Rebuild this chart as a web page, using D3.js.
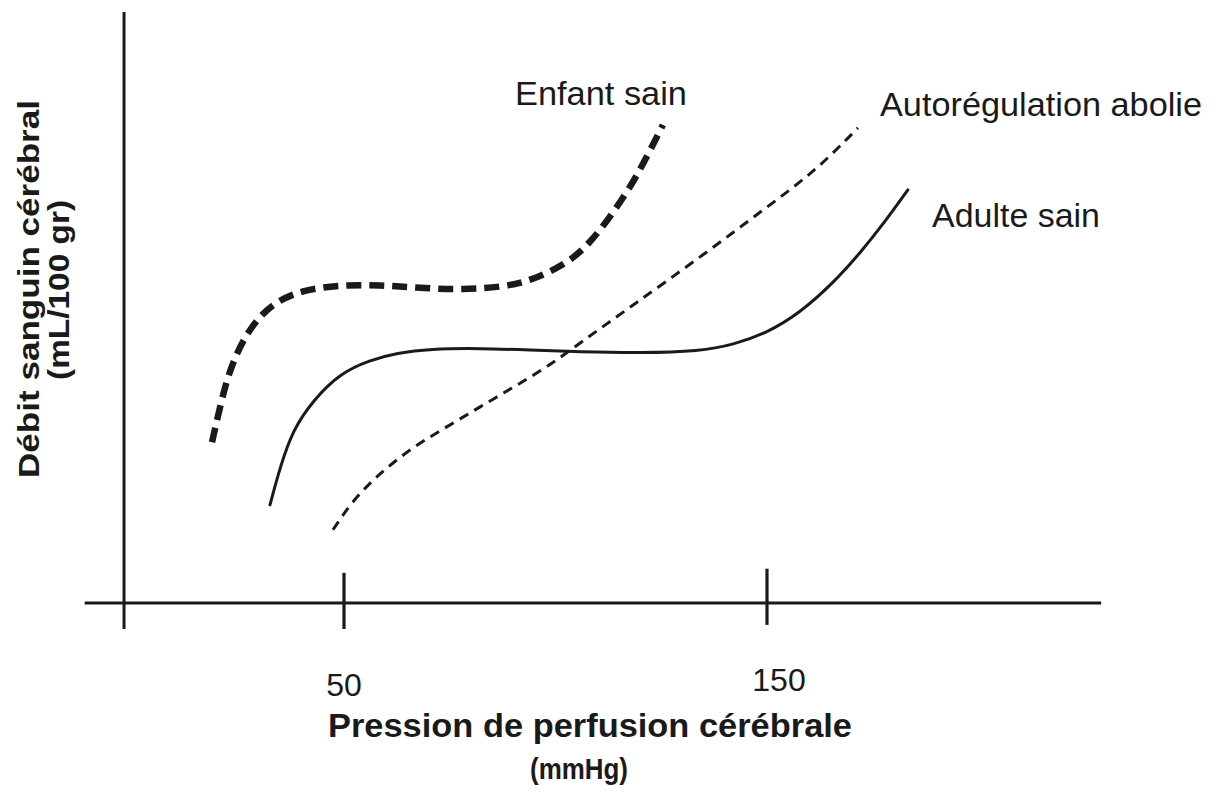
<!doctype html>
<html lang="fr">
<head>
<meta charset="UTF-8">
<title>Autorégulation cérébrale</title>
<script src="https://d3js.org/d3.v7.min.js"></script>
<style>
  body { margin: 0; background: #fff; }
  text { font-family: "Liberation Sans", Arial, sans-serif; fill: #1a1a1a; }
</style>
</head>
<body>
<div id="chart"></div>
<script>
  // pression de perfusion (mmHg) / débit (unités arbitraires, 0 = axe x)
  const enfantX = [18.8, 21.4, 23.8, 27.8, 33.2, 40.3, 49.1, 58.5, 68.0, 78.1, 88.1, 94.7, 102.7, 108.2, 113.6, 118.3, 121.6, 125.4];
  const enfantY = [27.2, 35.5, 41.1, 46.7, 50.8, 53.0, 53.8, 53.8, 53.3, 53.0, 53.5, 54.7, 57.4, 60.9, 66.0, 71.1, 75.5, 80.9];

  const adulteX = [32.5, 34.9, 37.9, 42.7, 49.1, 56.1, 62.5, 70.3, 82.2, 94.0, 105.8, 120.0, 134.2, 142.0, 150.0, 157.8, 165.6, 172.0, 177.9, 183.3];
  const adulteY = [16.6, 23.0, 29.3, 34.3, 38.9, 41.1, 42.3, 43.0, 43.1, 42.8, 42.5, 42.3, 42.6, 43.7, 45.7, 49.1, 54.1, 59.2, 64.5, 69.9];

  const aboliX = [47.4, 52.1, 58.5, 66.3, 74.3, 82.2, 90.0, 98.0, 105.8, 118.3, 134.2, 150.0, 161.8, 171.5];
  const aboliY = [12.4, 17.4, 22.0, 26.4, 29.8, 33.2, 36.5, 39.9, 44.0, 50.4, 58.5, 67.0, 73.3, 80.4];

  const tickValues = [50, 150];
  const tickLabels = ["50", "150"];
  const seriesLabels = ["Enfant sain", "Autorégulation abolie", "Adulte sain"];

  const width = 1215, height = 793;

  const x = d3.scaleLinear().domain([50, 150]).range([344, 767]);
  const y = d3.scaleLinear().domain([0, 100]).range([603, 12]);

  const svg = d3.select("#chart").append("svg")
    .attr("width", width)
    .attr("height", height);

  svg.append("rect").attr("width", width).attr("height", height).attr("fill", "#fff");

  const ink = "#1a1a1a";

  // axes
  svg.append("line")
    .attr("x1", x(-11.3)).attr("x2", x(229))
    .attr("y1", y(0)).attr("y2", y(0))
    .attr("stroke", ink).attr("stroke-width", 3);

  svg.append("line")
    .attr("x1", x(-2)).attr("x2", x(-2))
    .attr("y1", y(100)).attr("y2", y(-4.4))
    .attr("stroke", ink).attr("stroke-width", 3);

  const tickTop = [5.1, 5.8];
  const tickBottom = [-4.4, -3.7];
  svg.selectAll(".tick")
    .data(tickValues)
    .join("line")
    .attr("class", "tick")
    .attr("x1", d => x(d)).attr("x2", d => x(d))
    .attr("y1", (d, i) => y(tickTop[i]))
    .attr("y2", (d, i) => y(tickBottom[i]))
    .attr("stroke", ink).attr("stroke-width", 3.2);

  const labelShift = [0, 12];
  const labelBase = [696, 691];
  svg.selectAll(".ticklabel")
    .data(tickValues)
    .join("text")
    .attr("class", "ticklabel")
    .attr("x", (d, i) => x(d) + labelShift[i])
    .attr("y", (d, i) => labelBase[i])
    .attr("text-anchor", "middle")
    .style("font-size", "32px")
    .text((d, i) => tickLabels[i]);

  // courbes
  const line = d3.line()
    .x(d => x(d[0]))
    .y(d => y(d[1]))
    .curve(d3.curveBasis);

  const series = [
    { xs: enfantX, ys: enfantY, w: 6.5, dash: "15,8" },
    { xs: adulteX, ys: adulteY, w: 3, dash: null },
    { xs: aboliX, ys: aboliY, w: 3, dash: "10,7" }
  ];

  series.forEach(s => {
    svg.append("path")
      .datum(d3.zip(s.xs, s.ys))
      .attr("d", line)
      .attr("fill", "none")
      .attr("stroke", ink)
      .attr("stroke-width", s.w)
      .attr("stroke-dasharray", s.dash)
      .attr("stroke-linecap", s.dash ? "butt" : "round");
  });

  // étiquettes des courbes
  const lblPos = [[515, 105, 172], [880, 116, 322], [932, 227, 168]];
  svg.selectAll(".serieslabel")
    .data(seriesLabels)
    .join("text")
    .attr("class", "serieslabel")
    .attr("x", (d, i) => lblPos[i][0])
    .attr("y", (d, i) => lblPos[i][1])
    .attr("textLength", (d, i) => lblPos[i][2])
    .attr("lengthAdjust", "spacingAndGlyphs")
    .style("font-size", "34px")
    .text(d => d);

  // titres d'axes
  svg.append("text")
    .attr("x", 590).attr("y", 737)
    .attr("text-anchor", "middle")
    .attr("textLength", 524).attr("lengthAdjust", "spacingAndGlyphs")
    .style("font-size", "34px").style("font-weight", "bold")
    .text("Pression de perfusion cérébrale");

  svg.append("text")
    .attr("x", 579).attr("y", 779)
    .attr("text-anchor", "middle")
    .attr("textLength", 98).attr("lengthAdjust", "spacingAndGlyphs")
    .style("font-size", "30px").style("font-weight", "bold")
    .text("(mmHg)");

  svg.append("text")
    .attr("transform", "translate(39,289) rotate(-90)")
    .attr("text-anchor", "middle")
    .attr("textLength", 378).attr("lengthAdjust", "spacingAndGlyphs")
    .style("font-size", "30px").style("font-weight", "bold")
    .text("Débit sanguin cérébral");

  svg.append("text")
    .attr("transform", "translate(69,290) rotate(-90)")
    .attr("text-anchor", "middle")
    .attr("textLength", 180).attr("lengthAdjust", "spacingAndGlyphs")
    .style("font-size", "30px").style("font-weight", "bold")
    .text("(mL/100 gr)");
</script>
</body>
</html>
